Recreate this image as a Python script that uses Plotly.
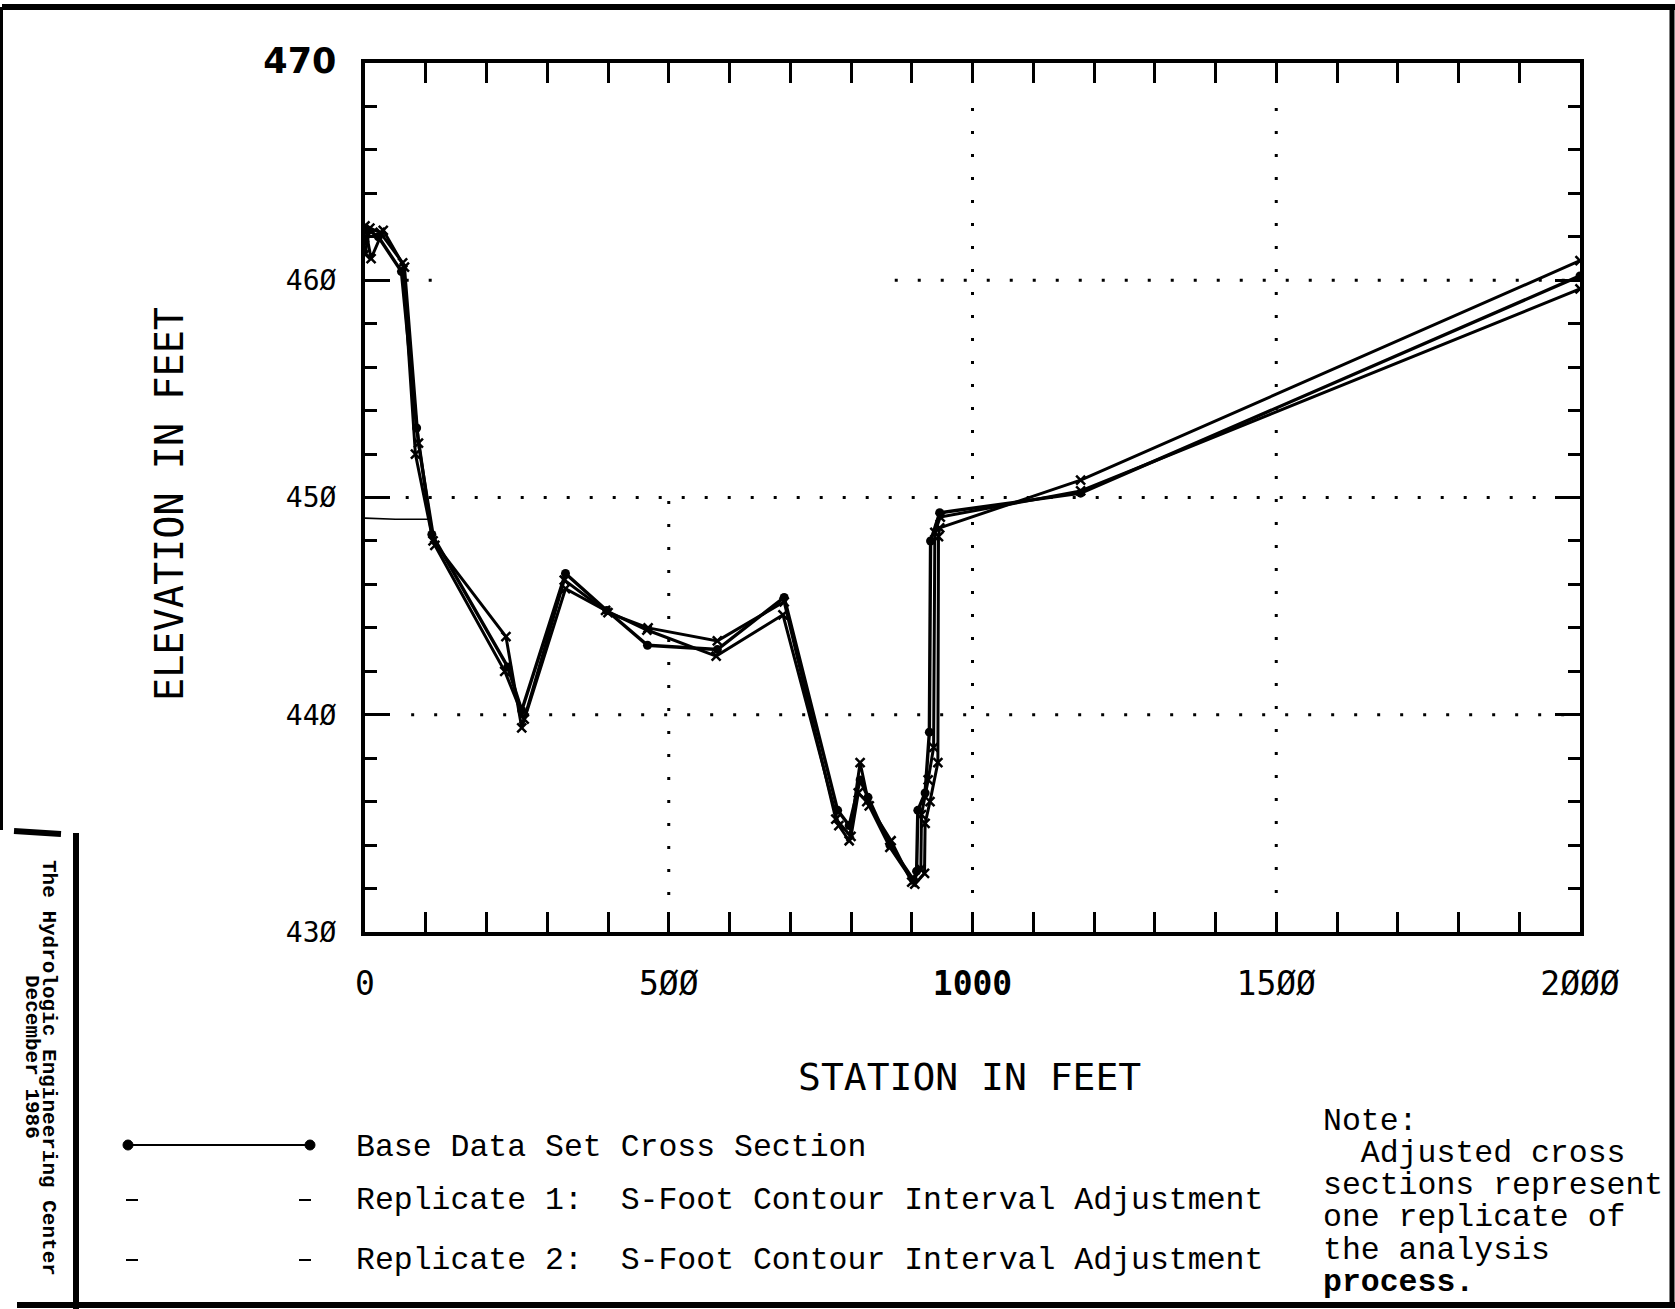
import plotly.graph_objects as go

# ---------------- data ----------------
base_x = [0, 6, 22, 60, 85, 110, 235, 258, 330, 398, 465, 580, 690, 778, 797, 815, 828,
          864, 903, 908, 910, 922, 929, 931, 946, 1178, 2000]
base_y = [461.8, 462.3, 462.0, 460.4, 453.2, 448.3, 442.2, 440.2, 446.5, 444.8, 443.2, 443.0,
          445.4, 435.6, 434.9, 437.0, 436.2, 434.0, 432.4, 432.8, 435.6, 436.4, 439.2, 448.0,
          449.3, 450.2, 460.2]

rep1_x = [0, 8, 25, 62, 83, 112, 232, 258, 330, 396, 464, 578, 688, 780, 797, 815, 830,
          864, 905, 921, 922, 930, 943, 944, 946, 1178, 2000]
rep1_y = [461.2, 462.4, 462.2, 460.8, 452.0, 448.0, 443.6, 439.4, 445.8, 444.8, 443.9, 442.7,
          444.6, 434.9, 434.2, 437.8, 435.8, 433.9, 432.2, 432.7, 435.0, 436.0, 437.8, 448.2,
          448.6, 450.8, 460.9]

rep2_x = [0, 10, 30, 65, 88, 115, 230, 262, 328, 400, 466, 580, 690, 775, 800, 812, 826,
          866, 900, 915, 916, 927, 936, 938, 947, 1178, 2000]
rep2_y = [462.5, 461.0, 462.3, 460.6, 452.5, 447.8, 442.0, 439.8, 446.2, 444.7, 444.0, 443.4,
          445.2, 435.2, 434.4, 436.4, 436.0, 434.2, 432.3, 432.9, 435.4, 437.0, 438.5, 448.4,
          449.1, 450.3, 459.6]

ws_x = [0, 50, 104]
ws_y = [449.05, 449.0, 449.0]

x_tickvals = [0, 500, 1000, 1500, 2000]
x_ticktext = ["0", "5ØØ", "<b>1000</b>", "15ØØ", "2ØØØ"]
y_tickvals = [430, 440, 450, 460, 470]
y_ticktext = ["43Ø", "44Ø", "45Ø", "46Ø",
              "<span style=\"font-family:'DejaVu Sans';font-size:35px;font-weight:bold\">470</span>"]

# partial dotted grid segments: (value, start, end)
grid_h = [(460, 67, 118), (460, 872, 2000), (450, 67, 2000), (440, 76, 2000)]
grid_v = [(500, 431.7, 450.5), (1000, 431.8, 468.0), (1500, 431.8, 468.0)]

legend_labels = ["Base Data Set Cross Section",
                 "Replicate 1:\u00a0\u00a0S-Foot Contour Interval Adjustment",
                 "Replicate 2:\u00a0\u00a0S-Foot Contour Interval Adjustment"]
note_lines = ["Note:", "\u00a0\u00a0Adjusted cross", "sections represent",
              "one replicate of", "the analysis", "<b>process.</b>"]
side_lines = ["The Hydrologic Engineering Center", "December 1986"]

# ---------------- layout geometry ----------------
W, H = 1675, 1309
L, R, T, B = 365, 1580, 63, 932   # plot area in pixels


def px(X):
    return (X - L) / (R - L)


def py(Y):
    return (B - Y) / (B - T)


MONO = "DejaVu Sans Mono"
COUR = "Liberation Mono"

fig = go.Figure()
fig.add_trace(go.Scatter(x=ws_x, y=ws_y, mode="lines",
                         line=dict(color="black", width=1.6), showlegend=False, hoverinfo="skip"))
fig.add_trace(go.Scatter(x=rep2_x, y=rep2_y, mode="lines+markers", name=legend_labels[2],
                         line=dict(color="black", width=3),
                         marker=dict(symbol="x-thin", size=9, line=dict(width=2.5, color="black")),
                         showlegend=False))
fig.add_trace(go.Scatter(x=rep1_x, y=rep1_y, mode="lines+markers", name=legend_labels[1],
                         line=dict(color="black", width=3),
                         marker=dict(symbol="x-thin", size=9, line=dict(width=2.5, color="black")),
                         showlegend=False))
fig.add_trace(go.Scatter(x=base_x, y=base_y, mode="lines+markers", name=legend_labels[0],
                         line=dict(color="black", width=3.4),
                         marker=dict(symbol="circle", size=9, color="black"),
                         showlegend=False))

shapes = []
for v, a, b in grid_h:
    shapes.append(dict(type="line", xref="x", yref="y", x0=a, x1=b, y0=v, y1=v, layer="below",
                       line=dict(color="black", width=3, dash="3px,20px")))
for v, a, b in grid_v:
    shapes.append(dict(type="line", xref="x", yref="y", x0=v, x1=v, y0=a, y1=b, layer="below",
                       line=dict(color="black", width=3, dash="3px,20px")))
shapes.append(dict(type="line", xref="x", yref="y", x0=880, x1=2000, y0=470.2, y1=470.2,
                   line=dict(color="black", width=2)))


def pline(x0, y0, x1, y1, w):
    shapes.append(dict(type="line", xref="paper", yref="paper",
                       x0=px(x0), y0=py(y0), x1=px(x1), y1=py(y1),
                       line=dict(color="black", width=w)))


# page frame
pline(2, 7, 1675, 7, 6)
pline(1.5, 7, 1.5, 830, 3)
pline(1672, 4, 1672, 1306, 5)
pline(17, 1305, 1675, 1305, 6)
pline(76, 833, 76, 1309, 6)
pline(14, 831, 61, 834, 6)

# legend samples
pline(128, 1145, 310, 1145, 2)
for cx in (128, 310):
    shapes.append(dict(type="circle", xref="paper", yref="paper",
                       x0=px(cx - 5), x1=px(cx + 5), y0=py(1145 + 5), y1=py(1145 - 5),
                       fillcolor="black", line=dict(color="black", width=1)))
for yy in (1200, 1260):
    pline(126, yy, 138, yy, 2)
    pline(299, yy, 311, yy, 2)

annotations = []


def ann(text, X, Y, size, family, xanchor="center", yanchor="middle", angle=0):
    annotations.append(dict(text=text, x=px(X), y=py(Y), xref="paper", yref="paper",
                            showarrow=False, xanchor=xanchor, yanchor=yanchor, textangle=angle,
                            font=dict(family=family, size=size, color="black")))


ann("ELEVATION IN FEET", 169, 504, 38.5, MONO, angle=-90)
ann("STATION IN FEET", 969, 1077, 38, MONO)
for i, lab in enumerate(legend_labels):
    ann(lab, 354, [1147, 1200, 1260][i], 31.5, COUR, xanchor="left")
for i, t in enumerate(note_lines):
    ann(t, 1321, 1121 + 32.3 * i, 31.5, COUR, xanchor="left")
ann("<b>" + side_lines[0] + "</b>", 49, 1068, 21, COUR, angle=90)
ann("<b>" + side_lines[1] + "</b>", 32, 1057, 21, COUR, angle=90)

fig.update_layout(
    width=W, height=H,
    margin=dict(l=L, r=W - R, t=T, b=H - B, pad=0),
    paper_bgcolor="white", plot_bgcolor="white",
    showlegend=False,
    shapes=shapes, annotations=annotations,
    xaxis=dict(range=[0, 2000], tickmode="array", tickvals=x_tickvals, ticktext=x_ticktext,
               ticks="inside", ticklen=20, tickwidth=3, tickcolor="black",
               minor=dict(tickmode="linear", tick0=0, dtick=100, ticks="inside", ticklen=20,
                          tickwidth=3, tickcolor="black", showgrid=False),
               showline=True, linewidth=4, linecolor="black", mirror="ticks",
               showgrid=False, zeroline=False, ticklabelstandoff=19,
               tickfont=dict(family=MONO, size=33, color="black")),
    yaxis=dict(range=[430, 470], tickmode="array", tickvals=y_tickvals, ticktext=y_ticktext,
               ticks="inside", ticklen=25, tickwidth=3, tickcolor="black",
               minor=dict(tickmode="linear", tick0=430, dtick=2, ticks="inside", ticklen=12,
                          tickwidth=3, tickcolor="black", showgrid=False),
               showline=True, linewidth=4, linecolor="black", mirror="ticks",
               showgrid=False, zeroline=False, ticklabelstandoff=19,
               tickfont=dict(family=MONO, size=28, color="black")),
)

fig.write_html("out.html", config={"displayModeBar": False},
               post_script="document.body.style.margin='0';document.body.style.overflow='hidden';")
